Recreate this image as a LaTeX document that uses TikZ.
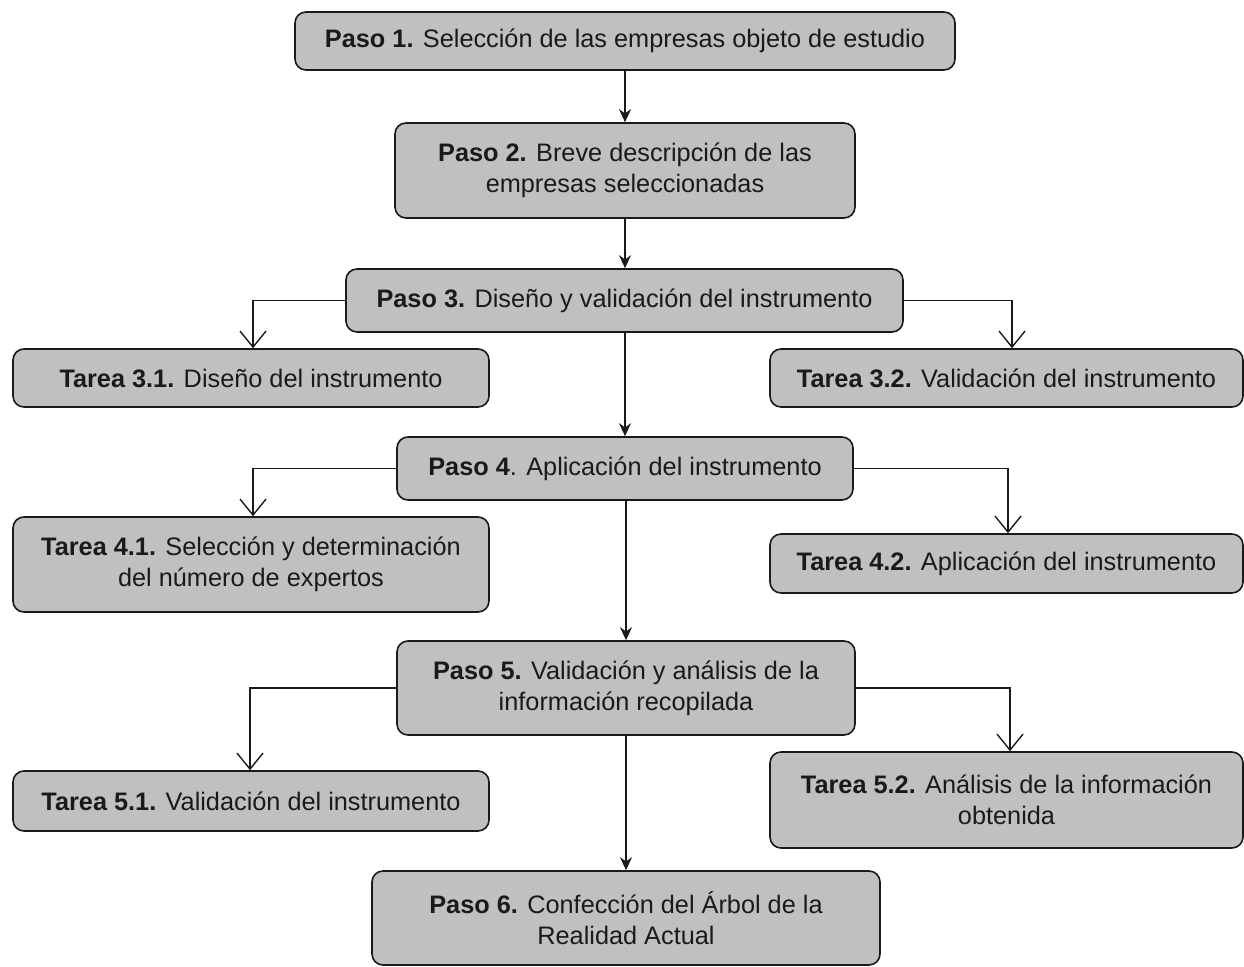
\documentclass[tikz,border=0pt]{standalone}
\usepackage{fontspec}
\setmainfont{Liberation Sans}
\usetikzlibrary{arrows.meta}
\definecolor{boxfill}{HTML}{C0C0C0}
\definecolor{ink}{HTML}{1A1A1A}
\tikzset{
  box/.style={draw=ink, line width=1.6pt, fill=boxfill, rounded corners=11pt,
    align=center, inner sep=0pt, font=\fontsize{25.3}{31}\selectfont, text=ink},
  flow/.style={draw=ink, line width=1.4pt, -{Stealth[length=13pt, width=12pt]}},
  branch/.style={draw=ink, line width=1.4pt, -{Straight Barb[length=16pt, width=26pt, line width=1.4pt]}}
}
\newcommand{\bx}[6]{% name, x1, y1, x2, y2, text
  \node[box, minimum width=#4pt-#2pt, minimum height=#5pt-#3pt] (#1) at ({(#2+#4)/2*1pt}, {-(#3+#5)/2*1pt}) {#6};}
\begin{document}
\begin{tikzpicture}[x=1pt, y=-1pt]
\useasboundingbox (0,0) rectangle (1244,966);
\bx{p1}{295}{12}{955}{70}{\textbf{Paso 1.} Selección de las empresas objeto de estudio}
\bx{p2}{395}{123}{855}{218}{\textbf{Paso 2.} Breve descripción de las\\empresas seleccionadas}
\bx{p3}{346}{269}{903}{332}{\textbf{Paso 3.} Diseño y validación del instrumento}
\bx{t31}{13}{349}{489}{407}{\textbf{Tarea 3.1.} Diseño del instrumento}
\bx{t32}{770}{349}{1243}{407}{\textbf{Tarea 3.2.} Validación del instrumento}
\bx{p4}{397}{437}{853}{500}{\textbf{Paso 4}. Aplicación del instrumento}
\bx{t41}{13}{517}{489}{612}{\textbf{Tarea 4.1.} Selección y determinación\\del número de expertos}
\bx{t42}{770}{534}{1243}{593}{\textbf{Tarea 4.2.} Aplicación del instrumento}
\bx{p5}{397}{641}{855}{735}{\textbf{Paso 5.} Validación y análisis de la\\información recopilada}
\bx{t51}{13}{771}{489}{831}{\textbf{Tarea 5.1.} Validación del instrumento}
\bx{t52}{770}{752}{1243}{848}{\textbf{Tarea 5.2.} Análisis de la información\\obtenida}
\bx{p6}{372}{871}{880}{965}{\textbf{Paso 6.} Confección del Árbol de la\\Realidad Actual}
% main sequence
\draw[flow] (p1.south -| 625,0) -- (p2.north -| 625,0);
\draw[flow] (p2.south -| 625,0) -- (p3.north -| 625,0);
\draw[flow] (p3.south -| 625,0) -- (p4.north -| 625,0);
\draw[flow] (p4.south -| 626,0) -- (p5.north -| 626,0);
\draw[flow] (p5.south -| 626,0) -- (p6.north -| 626,0);
% side tasks
\draw[branch] (p3.west) -| (t31.north -| 253,0);
\draw[branch] (p3.east) -| (t32.north -| 1012,0);
\draw[branch] (p4.west) -| (t41.north -| 253,0);
\draw[branch] (p4.east) -| (t42.north -| 1008,0);
\draw[branch] (p5.west) -| (t51.north -| 250,0);
\draw[branch] (p5.east) -| (t52.north -| 1010,0);
\end{tikzpicture}
\end{document}
